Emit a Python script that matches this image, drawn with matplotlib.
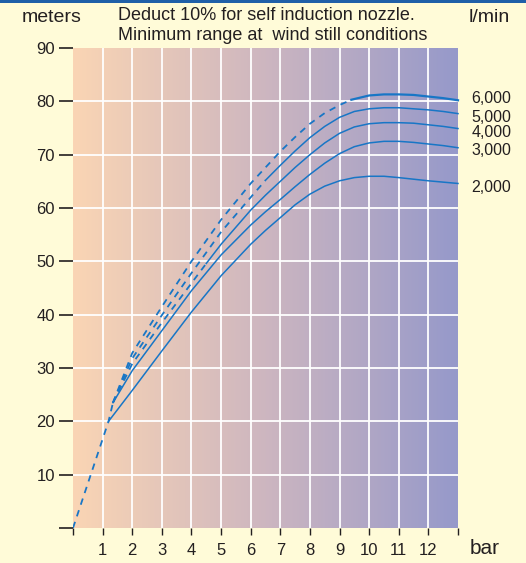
import numpy as np
import matplotlib
matplotlib.use("Agg")
import matplotlib.pyplot as plt
from matplotlib.colors import LinearSegmentedColormap
from matplotlib.patches import Rectangle

plt.rcParams['font.family'] = ['Liberation Sans Narrow', 'Liberation Sans', 'DejaVu Sans']

# ---- data ----
flows = ["2,000", "3,000", "4,000", "5,000", "6,000"]
label_y = [63.8, 70.8, 74.2, 76.9, 80.6]

base_x = [0, 1.2, 1.35]
base_y = [0, 20, 23.5]

x_2000 = [1.2, 2, 3, 4, 5, 6, 6.5, 7, 7.5, 8, 8.5, 9, 9.5, 10, 10.5, 11, 11.5, 12, 12.5, 13]
y_2000 = [20, 25.8, 33.2, 40.5, 47.3, 53.2, 55.8, 58.2, 60.6, 62.6, 64.1, 65.1, 65.7, 65.95,
          65.95, 65.7, 65.4, 65.1, 64.85, 64.6]

x_3000 = [1.35, 2, 3, 4, 5, 6, 6.5, 7, 7.5, 8, 8.5, 9, 9.5, 10, 10.5, 11, 11.5, 12, 12.5, 13]
y_3000 = [23.5, 29.5, 37.0, 44.5, 51.2, 56.8, 59.3, 61.6, 64.0, 66.3, 68.4, 70.2, 71.5, 72.2,
          72.5, 72.5, 72.3, 72.0, 71.7, 71.3]

x_4000 = [1.35, 2, 3, 4, 4.5, 5, 6, 6.5, 7, 7.5, 8, 8.5, 9, 9.5, 10, 10.5, 11, 11.5, 12, 12.5, 13]
y_4000 = [23.5, 30.8, 38.5, 45.9, 49.6, 53.2, 59.6, 62.4, 65.0, 67.6, 70.0, 72.2, 74.0, 75.2,
          75.8, 76.0, 76.0, 75.9, 75.6, 75.3, 74.9]

x_5000 = [1.35, 2, 3, 4, 5, 6, 6.5, 7, 7.5, 8, 8.5, 9, 9.5, 10, 10.5, 11, 11.5, 12, 12.5, 13]
y_5000 = [23.5, 31.8, 39.9, 47.8, 55.5, 62.0, 65.2, 68.0, 70.7, 73.2, 75.3, 77.0, 78.1, 78.6,
          78.8, 78.8, 78.6, 78.4, 78.1, 77.7]

x_6000 = [1.35, 2, 3, 4, 5, 6, 6.5, 7, 7.5, 8, 8.5, 9, 9.4, 10, 10.5, 11, 11.5, 12, 12.5, 13]
y_6000 = [23.5, 32.8, 41.5, 50.0, 57.8, 64.6, 67.6, 70.6, 73.3, 75.8, 77.8, 79.3, 80.3, 81.1,
          81.3, 81.3, 81.2, 80.9, 80.6, 80.2]

# x value up to which each curve is drawn dashed
dash_until = [0, 0, 4.5, 6.5, 9.4]

xticks = list(range(0, 14))
xtick_labels = [""] + [str(i) for i in range(1, 13)] + [""]
yticks = list(range(0, 91, 10))
ytick_labels = [""] + [str(v) for v in range(10, 91, 10)]

series_x = [x_2000, x_3000, x_4000, x_5000, x_6000]
series_y = [y_2000, y_3000, y_4000, y_5000, y_6000]

# ---- style ----
BG = "#FFFBD8"
LINE = "#1876C6"
TXT = "#231F20"

W, H = 526, 563
fig = plt.figure(figsize=(W / 100, H / 100), dpi=100, facecolor=BG)
ax = fig.add_axes([73 / W, 1 - 528 / H, (458 - 73) / W, (528 - 48) / H])
ax.set_facecolor(BG)

cmap = LinearSegmentedColormap.from_list("grad", ["#FAD5B4", "#CDB6C0", "#9699CA"])
grad = np.linspace(0, 1, 256).reshape(1, -1)
ax.imshow(grad, extent=[0, 13, 0, 90], aspect="auto", cmap=cmap, zorder=0, interpolation="bilinear")

for xv in range(1, 13):
    ax.axvline(xv, color="white", lw=1.3, zorder=1)
for yv in range(10, 90, 10):
    ax.axhline(yv, color="white", lw=1.3, zorder=1)

ax.set_xlim(0, 13)
ax.set_ylim(0, 90)

dash_style = dict(color=LINE, lw=1.3, dashes=(3.6, 3.2), zorder=3)
ax.plot(base_x, base_y, **dash_style)

for xs, ys, du in zip(series_x, series_y, dash_until):
    xs = np.array(xs, float)
    ys = np.array(ys, float)
    if du > 0:
        m = xs <= du + 1e-9
        ax.plot(xs[m], ys[m], **dash_style)
        s = xs >= du - 1e-9
        ax.plot(xs[s], ys[s], color=LINE, lw=1.6 if du > 9 else 1.1, zorder=3,
                solid_joinstyle="round", clip_on=False)
    else:
        ax.plot(xs, ys, color=LINE, lw=1.1, zorder=3, solid_joinstyle="round", clip_on=False)

for lab, yv in zip(flows, label_y):
    ax.text(13.45, yv, lab, ha="left", va="center", fontsize=11.5, color=TXT,
            clip_on=False)

for s in ax.spines.values():
    s.set_visible(False)

ax.set_xticks(xticks)
ax.set_xticklabels(xtick_labels)
ax.set_yticks(yticks)
ax.set_yticklabels(ytick_labels)
ax.tick_params(axis="x", direction="out", length=5, width=1, color=TXT,
               labelsize=12, labelcolor=TXT, pad=6)
ax.tick_params(axis="y", direction="out", length=10, width=1.2, color=TXT,
               labelsize=12, labelcolor=TXT, pad=3)

fig.text(470 / W, 1 - 549 / H, "bar", ha="left", va="center", fontsize=15, color=TXT)
fig.text(22 / W, 1 - 18 / H, "meters", ha="left", va="center", fontsize=14, color=TXT)
fig.text(118 / W, 1 - 16 / H, "Deduct 10% for self induction nozzle.", ha="left",
         va="center", fontsize=13, color=TXT)
fig.text(118 / W, 1 - 36 / H, "Minimum range at  wind still conditions", ha="left",
         va="center", fontsize=13, color=TXT)
fig.text(469 / W, 1 - 17 / H, "l/min", ha="left", va="center", fontsize=14, color=TXT)

fig.add_artist(Rectangle((0, 1 - 2.5 / H), 1, 2.5 / H, transform=fig.transFigure,
                         color="#1F5FA8", lw=0))

fig.savefig("out.png", dpi=100, facecolor=BG)
